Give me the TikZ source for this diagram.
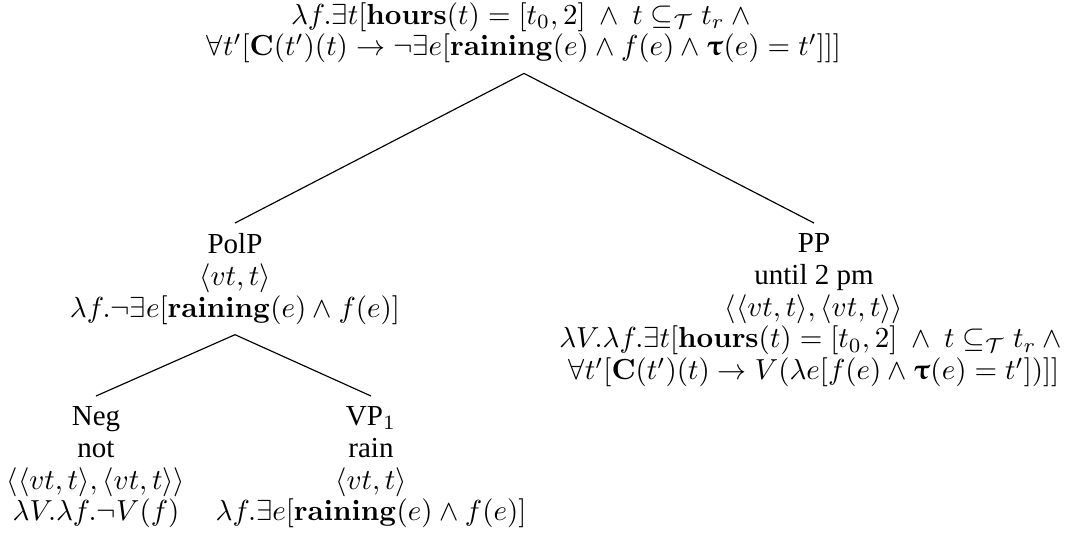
\documentclass[tikz,border=0pt]{standalone}
\usepackage{amsmath,amssymb}
\usepackage{upgreek}
\usepackage[no-math]{fontspec}
\setmainfont{Liberation Serif}
\newcommand{\btau}{\boldsymbol{\uptau}}
\begin{document}
\begin{tikzpicture}[x=0.3448pt,y=-0.3448pt,
  tn/.style={align=center,anchor=north,font=\fontsize{10}{11}\selectfont}]
\useasboundingbox (0,0) rectangle (1071,543);
\node[tn] (root) at (524,-8) {$\lambda f.\exists t[\mathbf{hours}(t)=[t_0,2]\ \wedge\ t\subseteq_{\mathcal{T}} t_r\wedge{}$\\
$\forall t'[\mathbf{C}(t')(t)\rightarrow\neg\exists e[\mathbf{raining}(e)\wedge f(e)\wedge\btau(e)=t']]]$};
\node[tn] (polp) at (235,223) {PolP\\$\langle vt,t\rangle$\\$\lambda f.\neg\exists e[\mathbf{raining}(e)\wedge f(e)]$};
\node[tn] (pp) at (814,223) {PP\\until 2 pm\\$\langle\langle vt,t\rangle,\langle vt,t\rangle\rangle$\\
$\lambda V.\lambda f.\exists t[\mathbf{hours}(t)=[t_0,2]\ \wedge\ t\subseteq_{\mathcal{T}} t_r\wedge{}$\\
$\forall t'[\mathbf{C}(t')(t)\rightarrow V(\lambda e[f(e)\wedge\btau(e)=t'])]]$};
\node[tn] (neg) at (96,396) {Neg\\not\\$\langle\langle vt,t\rangle,\langle vt,t\rangle\rangle$\\$\lambda V.\lambda f.\neg V(f)$};
\node[tn] (vp) at (371,396) {VP$_1$\\rain\\$\langle vt,t\rangle$\\$\lambda f.\exists e[\mathbf{raining}(e)\wedge f(e)]$};
\draw (root.south)--(polp.north);
\draw (root.south)--(pp.north);
\draw (polp.south)--(neg.north);
\draw (polp.south)--(vp.north);
\end{tikzpicture}
\end{document}
